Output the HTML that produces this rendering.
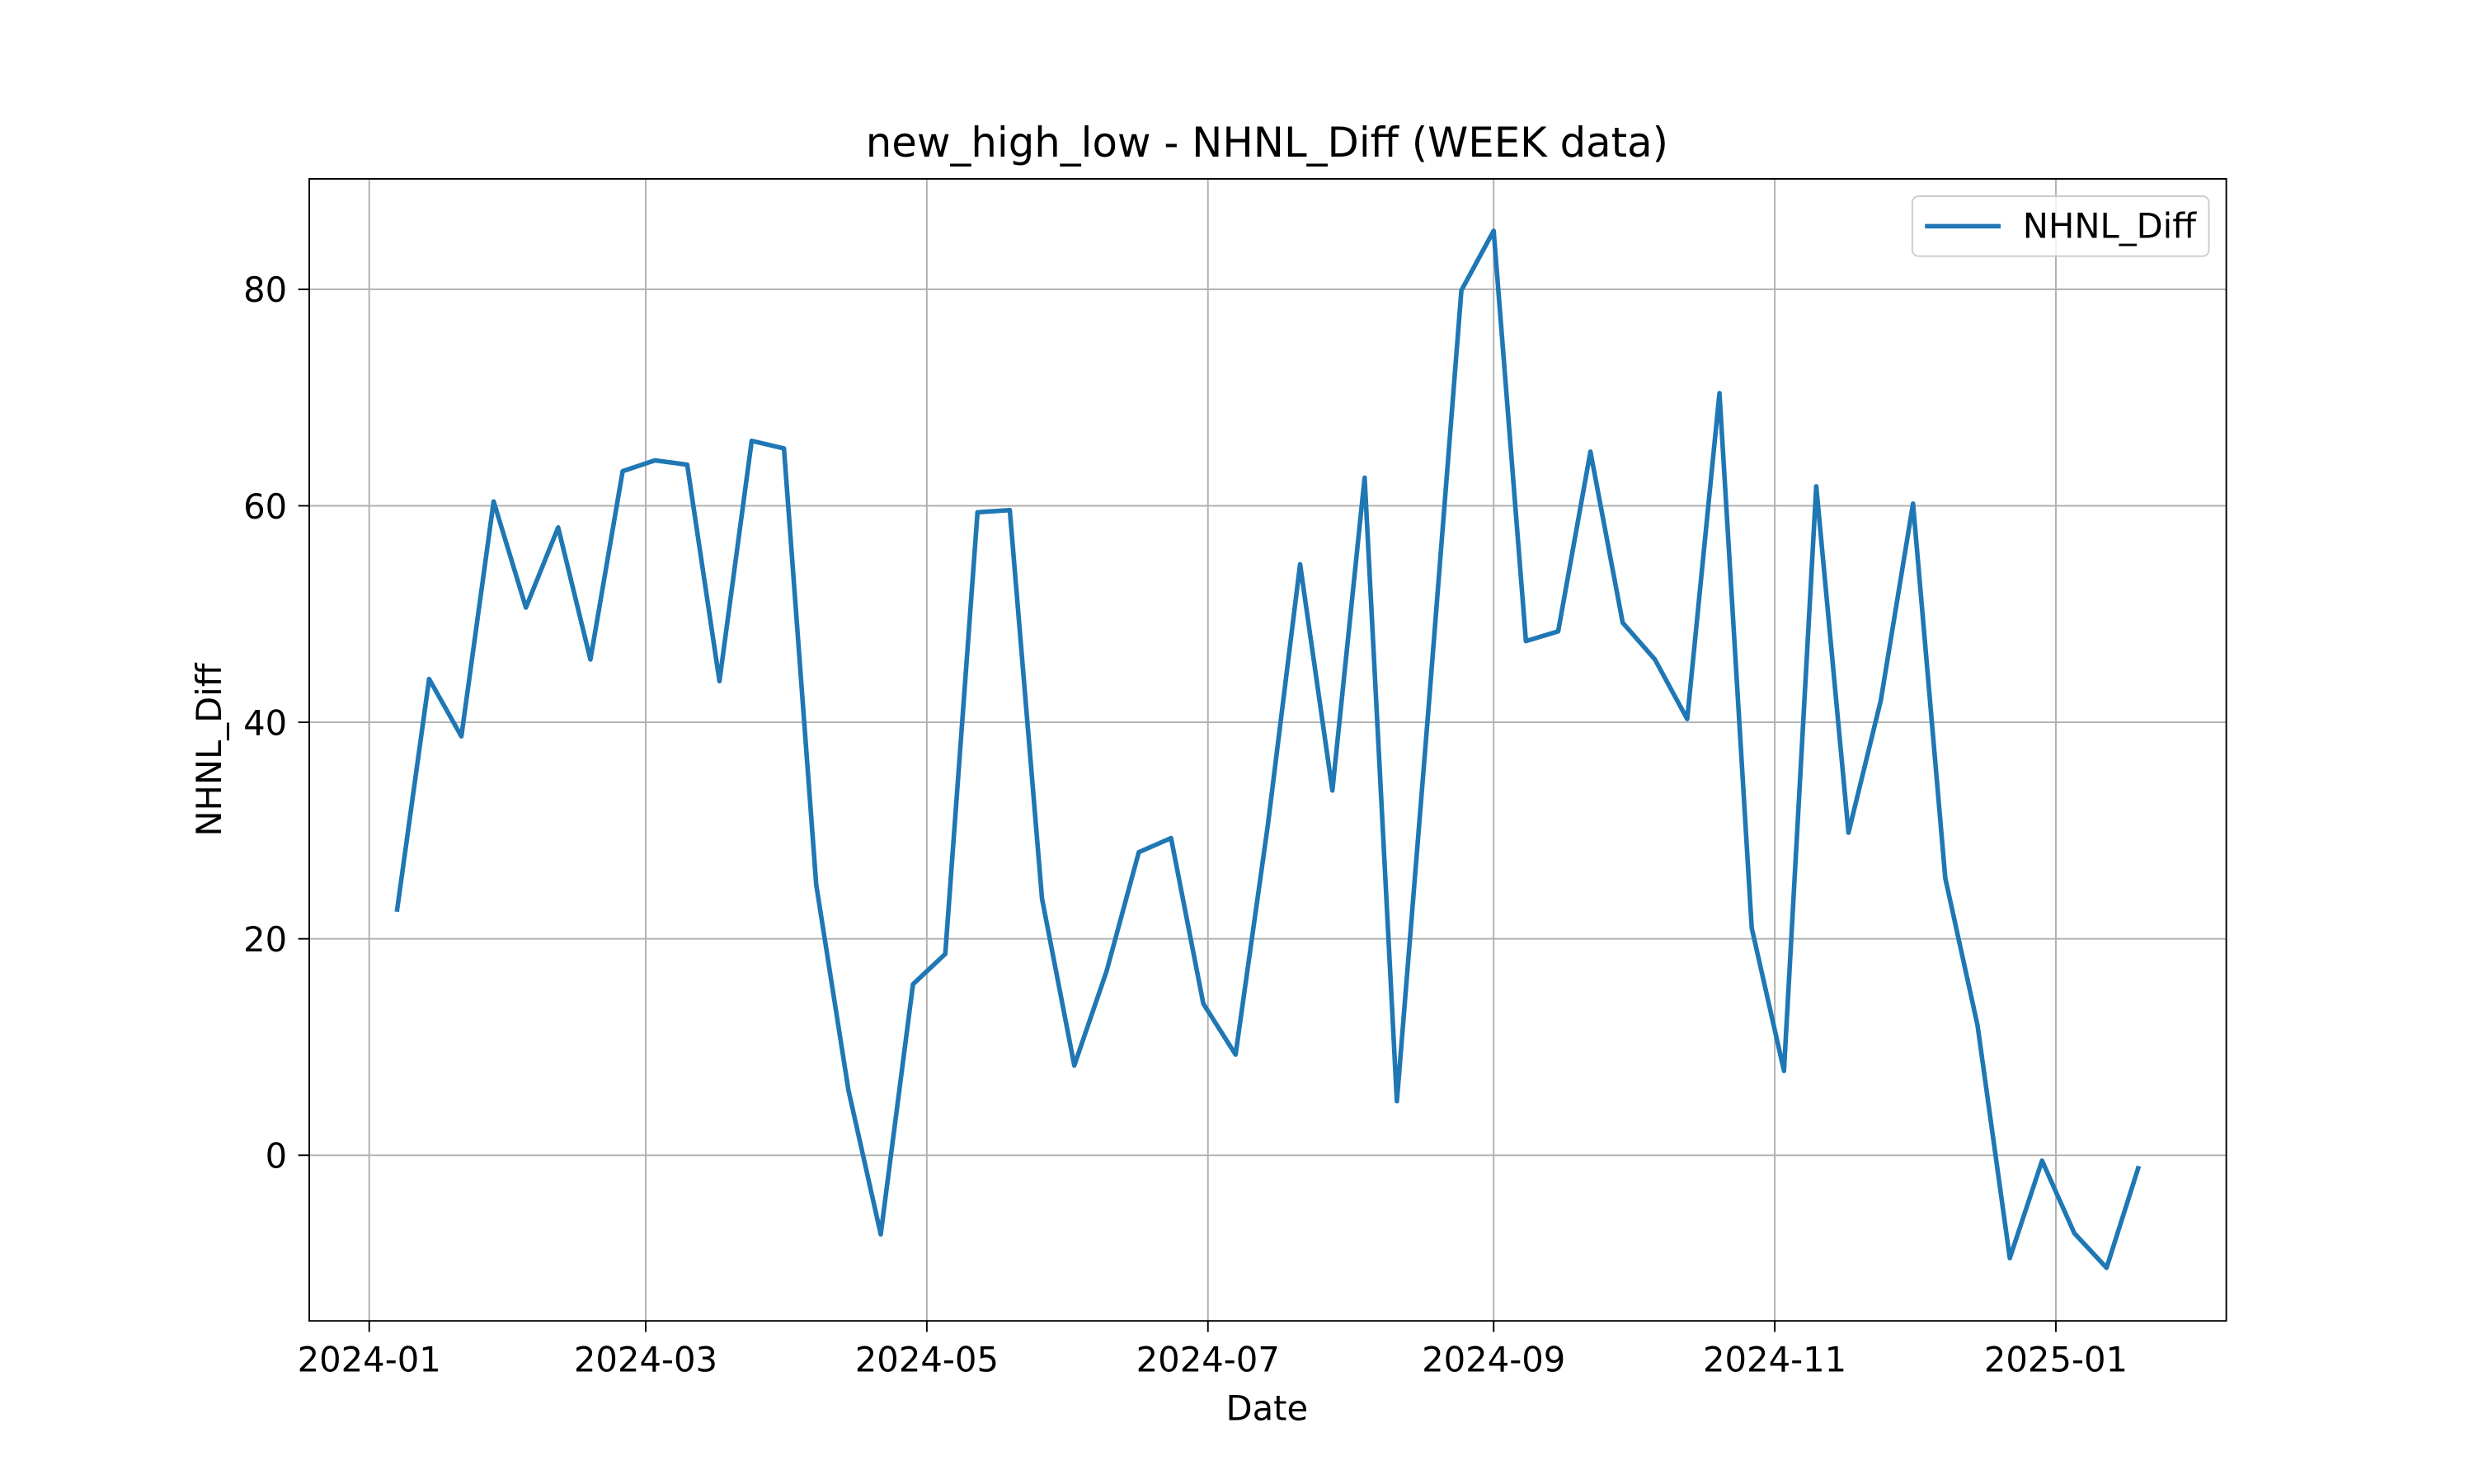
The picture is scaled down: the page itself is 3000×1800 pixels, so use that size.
<!DOCTYPE html>
<html><head><meta charset="utf-8"><style>
html,body{margin:0;padding:0;background:#fff;}
svg{display:block;font-family:"DejaVu Sans","Liberation Sans",sans-serif;}
</style></head><body>
<svg id="chart" width="3000" height="1800" viewBox="0 0 1568 940" xmlns="http://www.w3.org/2000/svg">
<rect x="0" y="0" width="1568" height="940" fill="#fff"/>
<g id="grid"></g>
<g id="series"></g>
<rect x="196" y="113" width="1215" height="724" fill="none" stroke="#000" stroke-width="1"/>
<g id="xticks"></g>
<g id="yticks"></g>
<text x="803" y="99" text-anchor="middle" font-size="26" fill="#000">new_high_low - NHNL_Diff (WEEK data)</text>
<text x="803" y="900" text-anchor="middle" font-size="21.8" fill="#000">Date</text>
<text transform="translate(140,475) rotate(-90)" text-anchor="middle" font-size="21.8" fill="#000">NHNL_Diff</text>
<g>
<rect x="1212" y="124" width="188" height="38" rx="4" fill="#fff" fill-opacity="0.8" stroke="#ccc" stroke-width="1"/>
<line x1="1220" y1="143" x2="1268" y2="143" stroke="#1f77b4" stroke-width="2.9"/>
<text x="1282" y="150.5" font-size="21.8" fill="#000">NHNL_Diff</text>
</g>
</svg>
<script>
const values = [22.5,44,38.7,60.4,50.6,58,45.8,63.2,64.2,63.8,43.8,66,65.3,25,6,-7.3,15.8,18.6,59.4,59.6,23.7,8.3,17,28,29.3,14,9.3,30.5,54.6,33.7,62.6,5,42,79.9,85.4,47.5,48.4,65,49.2,45.8,40.3,70.4,21,7.8,61.8,29.8,42,60.2,25.6,12,-9.5,-0.5,-7.2,-10.4,-1];
const startDate = "2024-01-07";
const xTickLabels = ["2024-01","2024-03","2024-05","2024-07","2024-09","2024-11","2025-01"];
const yTickValues = [0,20,40,60,80];

const NS="http://www.w3.org/2000/svg";
const day0=Date.UTC(2024,0,1);
function xScale(ms){return 234+(ms-day0)/86400000*(1069/366);}
function yScale(v){return 732-v*6.8625;}
function mk(tag,attrs,parent){const e=document.createElementNS(NS,tag);for(const k in attrs)e.setAttribute(k,attrs[k]);parent.appendChild(e);return e;}
const grid=document.getElementById('grid'),xt=document.getElementById('xticks'),yt=document.getElementById('yticks'),ser=document.getElementById('series');
xTickLabels.forEach(l=>{
  const [y,m]=l.split('-').map(Number);const x=xScale(Date.UTC(y,m-1,1));
  const g=mk('line',{x1:x,x2:x,y1:113,y2:837,stroke:'#b0b0b0','stroke-width':1},grid);
  
  
  const t=mk('line',{x1:x,x2:x,y1:837,y2:844,stroke:'#000','stroke-width':1},xt);
  
  
  const tx=mk('text',{x:x,y:869,'text-anchor':'middle','font-size':21.8,fill:'#000'},xt);tx.textContent=l;
  
  
});
yTickValues.forEach(v=>{
  const y=yScale(v);
  const g=mk('line',{x1:196,x2:1411,y1:y,y2:y,stroke:'#b0b0b0','stroke-width':1},grid);
  
  
  const t=mk('line',{x1:189,x2:196,y1:y,y2:y,stroke:'#000','stroke-width':1},yt);
  
  
  const tx=mk('text',{x:182,y:y+8,'text-anchor':'end','font-size':21.8,fill:'#000'},yt);tx.textContent=v;
  
  
});
const [sy,sm,sd]=startDate.split('-').map(Number);const s0=Date.UTC(sy,sm-1,sd);
const pts=values.map((v,i)=>xScale(s0+i*7*86400000).toFixed(2)+','+yScale(v).toFixed(2)).join(' ');
const pl=mk('polyline',{points:pts,fill:'none',stroke:'#1f77b4','stroke-width':2.9,'stroke-linejoin':'round'},ser);


</script>
</body></html>
